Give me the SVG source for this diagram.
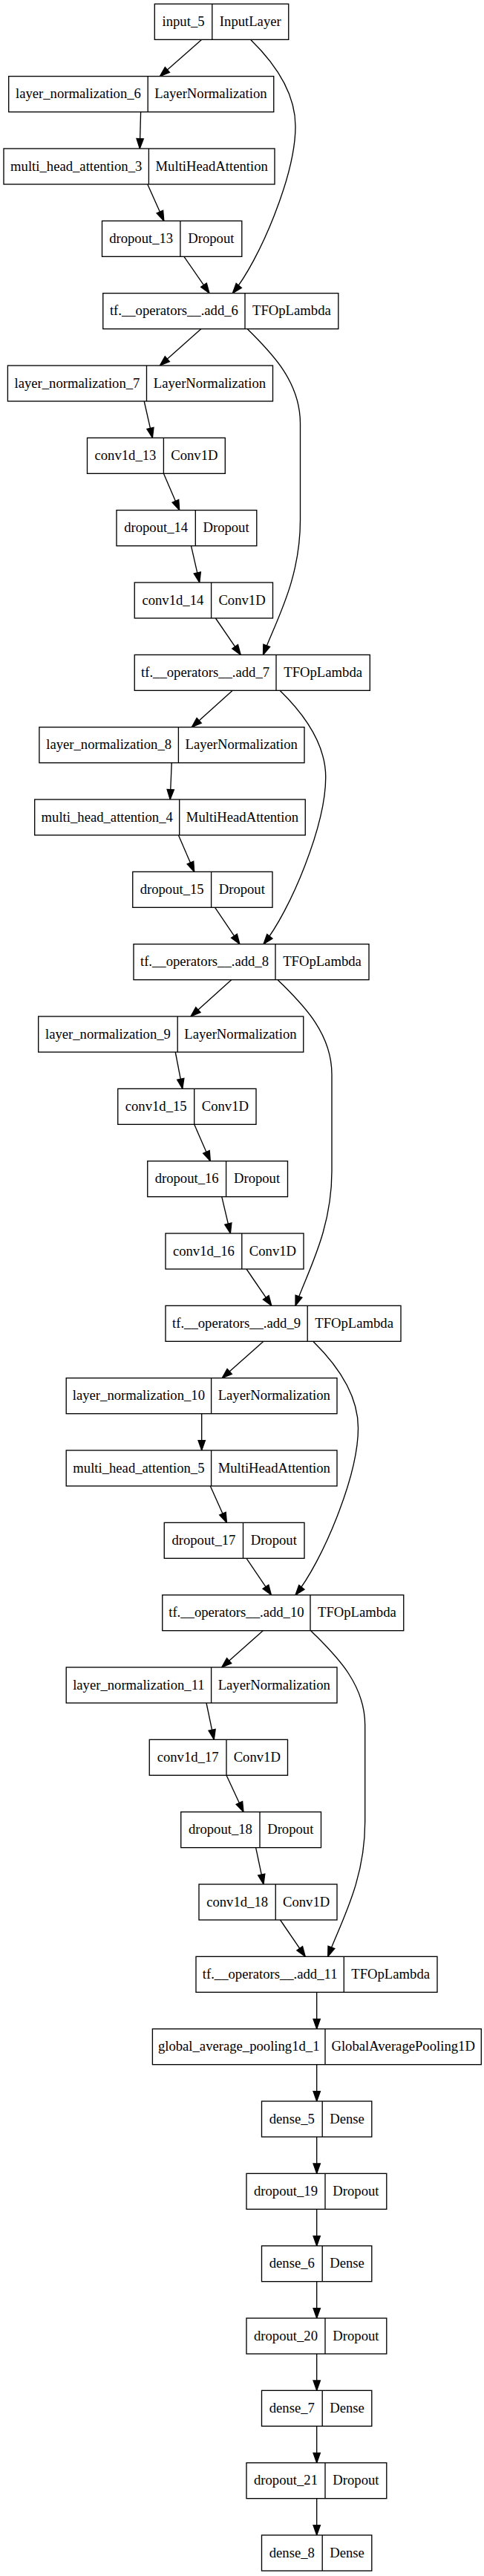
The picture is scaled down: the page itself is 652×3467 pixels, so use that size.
<svg xmlns="http://www.w3.org/2000/svg" width="652" height="3467" viewBox="0 0 652 3467">
<style>
.box{fill:#fff;stroke:#000;stroke-width:1.33}
.div{stroke:#000;stroke-width:1.33}
text{font-family:"Liberation Serif","Times New Roman",serif;font-size:18.67px;fill:#000;text-anchor:middle}
.e{fill:none;stroke:#000;stroke-width:1.33;marker-end:url(#ah)}
</style>
<defs>
<marker id="ah" markerUnits="userSpaceOnUse" markerWidth="16" markerHeight="12" refX="13.33" refY="4.67" orient="auto" overflow="visible">
<path d="M0,0 L13.33,4.67 L0,9.33 Z" fill="#000" stroke="#000" stroke-width="1.33"/>
</marker>
</defs>
<rect x="0" y="0" width="652" height="3467" fill="#fff"/>
<g id="connectors">
<path class="e" d="M271.7,53.33 L215.4,102.67"/>
<path class="e" d="M337.5,53.33 C370,85 398,125 398,170 C398,235 350,350 313.3,394.67"/>
<path class="e" d="M189.6,150.67 L188.3,200"/>
<path class="e" d="M198.75,248 L220.8,297.33"/>
<path class="e" d="M247.9,345.33 L282,394.67"/>
<path class="e" d="M270.8,442.67 L215.4,492"/>
<path class="e" d="M333.3,442.67 C360,470 404.5,510 404.5,570 L404.5,700 C404.5,780 372,835 354.5,881.33"/>
<path class="e" d="M194.2,540 L205.4,589.33"/>
<path class="e" d="M220.4,637.33 L241.7,686.67"/>
<path class="e" d="M257.5,734.67 L268.75,784"/>
<path class="e" d="M290.4,832 L324.2,881.33"/>
<path class="e" d="M313.3,929.33 L258.3,978.67"/>
<path class="e" d="M377,929.33 C409.5,961 438.75,1001 438.75,1046 C438.75,1111 391,1226 355,1270.67"/>
<path class="e" d="M231.25,1026.67 L229.2,1076"/>
<path class="e" d="M240.4,1124 L261.7,1173.33"/>
<path class="e" d="M289.6,1221.33 L322.9,1270.67"/>
<path class="e" d="M311.7,1318.67 L257,1368"/>
<path class="e" d="M374.2,1318.67 C401,1346 447,1386 447,1446 L447,1576 C447,1656 414.5,1711 398,1757.33"/>
<path class="e" d="M236.25,1416 L245.8,1465.33"/>
<path class="e" d="M261.7,1513.33 L283.3,1562.67"/>
<path class="e" d="M298.75,1610.67 L310.4,1660"/>
<path class="e" d="M332,1708 L365.8,1757.33"/>
<path class="e" d="M355,1805.33 L299.2,1854.67"/>
<path class="e" d="M421.7,1805.33 C454,1837 482.5,1877 482.5,1922 C482.5,1987 434,2102 398,2146.67"/>
<path class="e" d="M271.7,1902.67 L271.7,1952"/>
<path class="e" d="M283.3,2000 L305.4,2049.33"/>
<path class="e" d="M332,2097.33 L365.4,2146.67"/>
<path class="e" d="M354.2,2194.67 L298.75,2244"/>
<path class="e" d="M418.75,2194.67 C445.5,2222 491.7,2262 491.7,2322 L491.7,2452 C491.7,2532 459,2587 441.7,2633.33"/>
<path class="e" d="M278,2292 L288.3,2341.33"/>
<path class="e" d="M305,2389.33 L328,2438.67"/>
<path class="e" d="M344.6,2486.67 L355,2536"/>
<path class="e" d="M377.5,2584 L411.25,2633.33"/>
<path class="e" d="M426.7,2681.33 L426.7,2730.67"/>
<path class="e" d="M426.7,2778.67 L426.7,2828"/>
<path class="e" d="M426.7,2876 L426.7,2925.33"/>
<path class="e" d="M426.7,2973.33 L426.7,3022.67"/>
<path class="e" d="M426.7,3070.67 L426.7,3120"/>
<path class="e" d="M426.7,3168 L426.7,3217.33"/>
<path class="e" d="M426.7,3265.33 L426.7,3314.67"/>
<path class="e" d="M426.7,3362.67 L426.7,3412"/>
</g>
<g id="input_5"><rect class="box" x="208.3" y="5.33" width="180.45" height="48"/><line class="div" x1="285.8" y1="5.33" x2="285.8" y2="53.33"/><text x="247.05" y="34.93">input_5</text><text x="337.3" y="34.93">InputLayer</text></g>
<g id="layer_normalization_6"><rect class="box" x="11.7" y="102.67" width="357.05" height="48"/><line class="div" x1="199.2" y1="102.67" x2="199.2" y2="150.67"/><text x="105.45" y="132.27">layer_normalization_6</text><text x="283.98" y="132.27">LayerNormalization</text></g>
<g id="multi_head_attention_3"><rect class="box" x="5" y="200" width="365" height="48"/><line class="div" x1="200.4" y1="200" x2="200.4" y2="248"/><text x="102.7" y="229.6">multi_head_attention_3</text><text x="285.2" y="229.6">MultiHeadAttention</text></g>
<g id="dropout_13"><rect class="box" x="137.5" y="297.33" width="188.3" height="48"/><line class="div" x1="242.9" y1="297.33" x2="242.9" y2="345.33"/><text x="190.2" y="326.93">dropout_13</text><text x="284.35" y="326.93">Dropout</text></g>
<g id="add_6"><rect class="box" x="138.75" y="394.67" width="317.05" height="48"/><line class="div" x1="330" y1="394.67" x2="330" y2="442.67"/><text x="234.4" y="424.27">tf.__operators__.add_6</text><text x="392.9" y="424.27">TFOpLambda</text></g>
<g id="layer_normalization_7"><rect class="box" x="10.4" y="492" width="357.1" height="48"/><line class="div" x1="197.5" y1="492" x2="197.5" y2="540"/><text x="103.95" y="521.6">layer_normalization_7</text><text x="282.5" y="521.6">LayerNormalization</text></g>
<g id="conv1d_13"><rect class="box" x="117.5" y="589.33" width="185.8" height="48"/><line class="div" x1="220.4" y1="589.33" x2="220.4" y2="637.33"/><text x="168.95" y="618.93">conv1d_13</text><text x="261.85" y="618.93">Conv1D</text></g>
<g id="dropout_14"><rect class="box" x="157" y="686.67" width="188.8" height="48"/><line class="div" x1="263.3" y1="686.67" x2="263.3" y2="734.67"/><text x="210.15" y="716.27">dropout_14</text><text x="304.55" y="716.27">Dropout</text></g>
<g id="conv1d_14"><rect class="box" x="181.25" y="784" width="186.25" height="48"/><line class="div" x1="284.6" y1="784" x2="284.6" y2="832"/><text x="232.9" y="813.6">conv1d_14</text><text x="326.05" y="813.6">Conv1D</text></g>
<g id="add_7"><rect class="box" x="181.25" y="881.33" width="317.05" height="48"/><line class="div" x1="372" y1="881.33" x2="372" y2="929.33"/><text x="276.6" y="910.93">tf.__operators__.add_7</text><text x="435.15" y="910.93">TFOpLambda</text></g>
<g id="layer_normalization_8"><rect class="box" x="52.9" y="978.67" width="357.1" height="48"/><line class="div" x1="240.4" y1="978.67" x2="240.4" y2="1026.67"/><text x="146.65" y="1008.27">layer_normalization_8</text><text x="325.2" y="1008.27">LayerNormalization</text></g>
<g id="multi_head_attention_4"><rect class="box" x="46.7" y="1076" width="364.55" height="48"/><line class="div" x1="241.7" y1="1076" x2="241.7" y2="1124"/><text x="144.2" y="1105.6">multi_head_attention_4</text><text x="326.5" y="1105.6">MultiHeadAttention</text></g>
<g id="dropout_15"><rect class="box" x="178.75" y="1173.33" width="188.25" height="48"/><line class="div" x1="284.6" y1="1173.33" x2="284.6" y2="1221.33"/><text x="231.7" y="1202.93">dropout_15</text><text x="325.8" y="1202.93">Dropout</text></g>
<g id="add_8"><rect class="box" x="180" y="1270.67" width="317" height="48"/><line class="div" x1="371" y1="1270.67" x2="371" y2="1318.67"/><text x="275.5" y="1300.27">tf.__operators__.add_8</text><text x="434" y="1300.27">TFOpLambda</text></g>
<g id="layer_normalization_9"><rect class="box" x="51.7" y="1368" width="357.05" height="48"/><line class="div" x1="239.2" y1="1368" x2="239.2" y2="1416"/><text x="145.45" y="1397.6">layer_normalization_9</text><text x="323.98" y="1397.6">LayerNormalization</text></g>
<g id="conv1d_15"><rect class="box" x="158.75" y="1465.33" width="186.25" height="48"/><line class="div" x1="261.7" y1="1465.33" x2="261.7" y2="1513.33"/><text x="210.2" y="1494.93">conv1d_15</text><text x="303.35" y="1494.93">Conv1D</text></g>
<g id="dropout_16"><rect class="box" x="198.75" y="1562.67" width="188.75" height="48"/><line class="div" x1="304.6" y1="1562.67" x2="304.6" y2="1610.67"/><text x="251.7" y="1592.27">dropout_16</text><text x="346.05" y="1592.27">Dropout</text></g>
<g id="conv1d_16"><rect class="box" x="223" y="1660" width="186" height="48"/><line class="div" x1="325.8" y1="1660" x2="325.8" y2="1708"/><text x="274.4" y="1689.6">conv1d_16</text><text x="367.4" y="1689.6">Conv1D</text></g>
<g id="add_9"><rect class="box" x="223" y="1757.33" width="317" height="48"/><line class="div" x1="414.2" y1="1757.33" x2="414.2" y2="1805.33"/><text x="318.6" y="1786.93">tf.__operators__.add_9</text><text x="477.1" y="1786.93">TFOpLambda</text></g>
<g id="layer_normalization_10"><rect class="box" x="89.2" y="1854.67" width="364.8" height="48"/><line class="div" x1="284.6" y1="1854.67" x2="284.6" y2="1902.67"/><text x="186.9" y="1884.27">layer_normalization_10</text><text x="369.3" y="1884.27">LayerNormalization</text></g>
<g id="multi_head_attention_5"><rect class="box" x="89.2" y="1952" width="364.8" height="48"/><line class="div" x1="284.6" y1="1952" x2="284.6" y2="2000"/><text x="186.9" y="1981.6">multi_head_attention_5</text><text x="369.3" y="1981.6">MultiHeadAttention</text></g>
<g id="dropout_17"><rect class="box" x="221.25" y="2049.33" width="188.75" height="48"/><line class="div" x1="327.5" y1="2049.33" x2="327.5" y2="2097.33"/><text x="274.4" y="2078.93">dropout_17</text><text x="368.75" y="2078.93">Dropout</text></g>
<g id="add_10"><rect class="box" x="218.75" y="2146.67" width="325" height="48"/><line class="div" x1="418" y1="2146.67" x2="418" y2="2194.67"/><text x="318.4" y="2176.27">tf.__operators__.add_10</text><text x="480.9" y="2176.27">TFOpLambda</text></g>
<g id="layer_normalization_11"><rect class="box" x="89.2" y="2244" width="364.8" height="48"/><line class="div" x1="284.6" y1="2244" x2="284.6" y2="2292"/><text x="186.9" y="2273.6">layer_normalization_11</text><text x="369.3" y="2273.6">LayerNormalization</text></g>
<g id="conv1d_17"><rect class="box" x="201.25" y="2341.33" width="186.25" height="48"/><line class="div" x1="305" y1="2341.33" x2="305" y2="2389.33"/><text x="253.1" y="2370.93">conv1d_17</text><text x="346.25" y="2370.93">Conv1D</text></g>
<g id="dropout_18"><rect class="box" x="243.75" y="2438.67" width="188.75" height="48"/><line class="div" x1="350" y1="2438.67" x2="350" y2="2486.67"/><text x="296.9" y="2468.27">dropout_18</text><text x="391.25" y="2468.27">Dropout</text></g>
<g id="conv1d_18"><rect class="box" x="268" y="2536" width="186" height="48"/><line class="div" x1="371.25" y1="2536" x2="371.25" y2="2584"/><text x="319.6" y="2565.6">conv1d_18</text><text x="412.6" y="2565.6">Conv1D</text></g>
<g id="add_11"><rect class="box" x="264" y="2633.33" width="325" height="48"/><line class="div" x1="463.3" y1="2633.33" x2="463.3" y2="2681.33"/><text x="363.65" y="2662.93">tf.__operators__.add_11</text><text x="526.15" y="2662.93">TFOpLambda</text></g>
<g id="global_average_pooling1d_1"><rect class="box" x="205.4" y="2730.67" width="442.9" height="48"/><line class="div" x1="438" y1="2730.67" x2="438" y2="2778.67"/><text x="321.7" y="2760.27">global_average_pooling1d_1</text><text x="543.15" y="2760.27">GlobalAveragePooling1D</text></g>
<g id="dense_5"><rect class="box" x="352.5" y="2828" width="148.3" height="48"/><line class="div" x1="434.2" y1="2828" x2="434.2" y2="2876"/><text x="393.35" y="2857.6">dense_5</text><text x="467.5" y="2857.6">Dense</text></g>
<g id="dropout_19"><rect class="box" x="332" y="2925.33" width="188.8" height="48"/><line class="div" x1="438" y1="2925.33" x2="438" y2="2973.33"/><text x="385" y="2954.93">dropout_19</text><text x="479.4" y="2954.93">Dropout</text></g>
<g id="dense_6"><rect class="box" x="352.5" y="3022.67" width="148.3" height="48"/><line class="div" x1="434.2" y1="3022.67" x2="434.2" y2="3070.67"/><text x="393.35" y="3052.27">dense_6</text><text x="467.5" y="3052.27">Dense</text></g>
<g id="dropout_20"><rect class="box" x="332" y="3120" width="188.8" height="48"/><line class="div" x1="438" y1="3120" x2="438" y2="3168"/><text x="385" y="3149.6">dropout_20</text><text x="479.4" y="3149.6">Dropout</text></g>
<g id="dense_7"><rect class="box" x="352.5" y="3217.33" width="148.3" height="48"/><line class="div" x1="434.2" y1="3217.33" x2="434.2" y2="3265.33"/><text x="393.35" y="3246.93">dense_7</text><text x="467.5" y="3246.93">Dense</text></g>
<g id="dropout_21"><rect class="box" x="332" y="3314.67" width="188.8" height="48"/><line class="div" x1="438" y1="3314.67" x2="438" y2="3362.67"/><text x="385" y="3344.27">dropout_21</text><text x="479.4" y="3344.27">Dropout</text></g>
<g id="dense_8"><rect class="box" x="352.5" y="3412" width="148.3" height="48"/><line class="div" x1="434.2" y1="3412" x2="434.2" y2="3460"/><text x="393.35" y="3441.6">dense_8</text><text x="467.5" y="3441.6">Dense</text></g>
</svg>
